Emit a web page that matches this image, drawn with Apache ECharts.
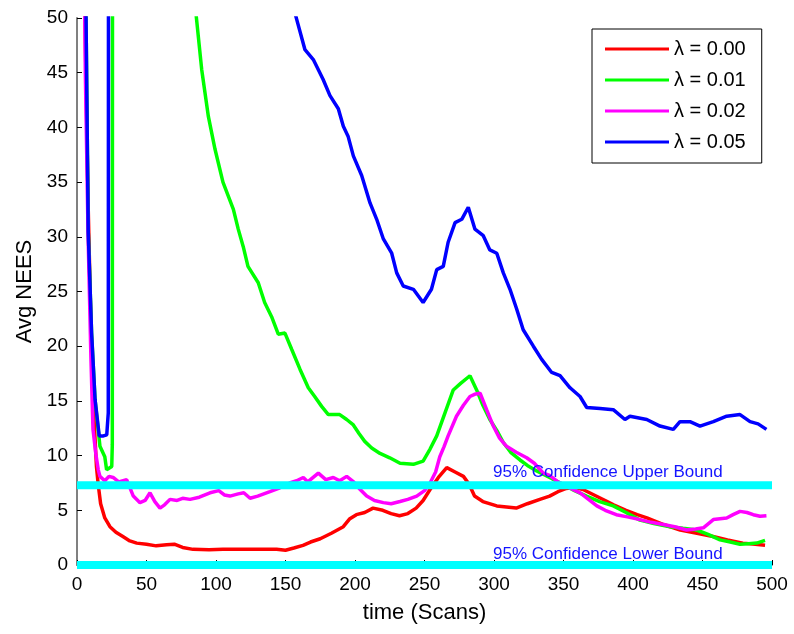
<!DOCTYPE html>
<html>
<head>
<meta charset="utf-8">
<script src="https://cdn.jsdelivr.net/npm/echarts@6/dist/echarts.min.js"></script>
<style>html,body{margin:0;padding:0;background:#fff}#c{width:794px;height:634px}</style>
</head>
<body>
<div id="c"></div>
<script>
var seriesNames = ['λ = 0.00', 'λ = 0.01', 'λ = 0.02', 'λ = 0.05'];
var xTicks = [0, 50, 100, 150, 200, 250, 300, 350, 400, 450, 500];
var yTicks = [0, 5, 10, 15, 20, 25, 30, 35, 40, 45, 50];
var upperBound = 7.3;
var lowerBound = 0;
var boundLabels = ['95% Confidence Upper Bound', '95% Confidence Lower Bound'];

var lambda000 = [[2,90],[6,48],[8,33],[10,22],[12,14],[14,9],[15.3,7.3],[17,5.6],[20,4.3],[23.7,3.5],[28,3.0],[33,2.6],[38,2.2],[43,2.0],[50,1.9],[57,1.75],[64.5,1.85],[70,1.9],[76,1.6],[83.5,1.43],[95,1.4],[105,1.45],[115,1.43],[130,1.45],[143.6,1.43],[150,1.35],[156,1.55],[162.6,1.8],[168,2.1],[175,2.4],[183,2.9],[191.6,3.5],[196,4.2],[201,4.6],[207,4.8],[213,5.2],[220,5.0],[226,4.7],[232,4.5],[238,4.7],[244,5.2],[249,5.9],[254,6.9],[260,8.0],[266,8.9],[272,8.5],[278,8.1],[282,7.4],[286,6.3],[292,5.8],[302,5.4],[309,5.3],[316,5.2],[324,5.6],[333,6.0],[340,6.3],[346,6.7],[352,7.0],[358,7.1],[364,6.9],[372,6.4],[380,5.9],[386,5.5],[395,5.0],[403,4.6],[410,4.3],[422,3.7],[434,3.2],[446,2.9],[457.6,2.6],[468,2.3],[479,2.0],[488,1.9],[495,1.8]];

var lambda001 = [[2,120],[6.5,50],[8.1,30.4],[10.5,21.2],[13,15.1],[16.5,10.85],[20,9.9],[21.3,8.7],[25,9.0],[25.4,11],[25.7,100],[50,140],[82,55],[86,49.9],[89.7,45.3],[94.5,41.0],[99.3,38.0],[105,35.0],[112.5,32.5],[116,30.7],[119.6,29.1],[123,27.3],[130.4,25.8],[135,24.0],[140,22.7],[144.8,21.1],[149.6,21.2],[154.5,19.7],[160.4,17.9],[166.4,16.2],[171,15.4],[176,14.5],[180.8,13.75],[189,13.75],[194,13.3],[198.8,12.8],[203,12.0],[207,11.3],[212,10.7],[218,10.2],[225,9.8],[232.4,9.3],[242,9.2],[249,9.5],[254,10.6],[258.8,11.8],[265,14.0],[270.7,16.0],[276,16.6],[282.7,17.3],[287.5,16.0],[292,14.6],[297,13.3],[302,12.3],[306.7,11.2],[312,10.3],[318.7,9.6],[324,9.1],[330.7,8.6],[340,8.0],[349.9,7.35],[358,6.8],[366.6,6.3],[376,5.8],[385.8,5.4],[395,4.8],[405,4.1],[415,3.8],[426.6,3.5],[436,3.35],[445.8,3.2],[454,2.8],[462.6,2.3],[470,2.1],[477,1.9],[483,1.95],[489,2.0],[495,2.25]];

var lambda002 = [[2,100],[6,45],[8,30],[10,19],[11.5,12.4],[13.5,10.2],[15.3,8.7],[16.5,8.1],[20,7.7],[23,8.1],[26,8.0],[30,7.6],[35.7,7.8],[40.5,6.3],[45.3,5.7],[49,5.9],[52.5,6.6],[56,5.8],[59.7,5.2],[63,5.5],[66.9,6.0],[72,5.9],[76,6.1],[81.3,6.0],[88,6.2],[95.7,6.6],[102,6.8],[106,6.4],[110,6.3],[116,6.5],[120,6.6],[124.5,6.1],[130,6.3],[138.8,6.7],[145,7.0],[153,7.5],[158,7.7],[162.8,8.0],[166,7.6],[173.6,8.4],[179,7.8],[184.4,8.0],[189,7.7],[194,8.1],[199,7.6],[203,7.0],[208.4,6.3],[214,5.9],[220.4,5.7],[226,5.6],[232.4,5.8],[238,6.0],[244.4,6.3],[250,6.8],[254,7.5],[258,8.5],[261,9.9],[264,10.8],[267,11.8],[273,13.6],[278,14.6],[282.7,15.4],[286,15.6],[290,15.7],[294.7,14.2],[299.5,12.7],[304,11.6],[309,10.85],[316,10.3],[323.5,9.8],[329,9.3],[335.5,8.4],[340,8.2],[346,7.6],[352,7.2],[362,6.6],[368,6.0],[374,5.4],[380,5.0],[388,4.6],[396,4.4],[405,4.15],[413,3.9],[421.8,3.7],[430,3.5],[438.6,3.2],[445,3.3],[450.6,3.4],[457.8,4.15],[467.4,4.3],[472,4.6],[477,4.9],[482,4.8],[486.5,4.6],[491.4,4.45],[496,4.5]];

var lambda005 = [[2,120],[6.5,50],[8.1,30.4],[10.5,21.2],[13,15.1],[16,11.8],[19,11.8],[21.4,11.9],[22.5,13.9],[22.8,100],[60,150],[120,90],[152,52.7],[158,49.9],[164,47.1],[170,46.2],[177,44.4],[182,42.9],[188,41.7],[191.6,40.1],[195,39.2],[198.8,37.4],[204.8,35.6],[210.8,33.1],[215.6,31.6],[220.4,29.8],[226.4,28.5],[230,26.7],[234.7,25.5],[242,25.2],[249,24.0],[255,25.2],[258.8,27.0],[263.5,27.3],[267,29.5],[272,31.3],[276.8,31.6],[281.5,32.7],[286.3,30.7],[292.3,30.1],[297,28.8],[302,28.5],[306.7,26.7],[311.5,25.2],[316.3,23.4],[321,21.5],[328.3,20.0],[334.3,18.8],[341.5,17.6],[347.5,17.3],[354.7,16.2],[361.9,15.4],[366.7,14.4],[376.3,14.3],[385.8,14.2],[394.2,13.3],[397.8,13.6],[409.9,13.3],[419.4,12.7],[429,12.4],[433.8,13.1],[441,13.1],[448.2,12.7],[457.8,13.1],[467.4,13.6],[477,13.75],[484.2,13.1],[490,12.9],[496,12.4]];

var seriesData = [lambda000, lambda001, lambda002, lambda005];
var colors = ['#ff0000', '#00ff00', '#ff00ff', '#0000ff'];

var chart = echarts.init(document.getElementById('c'), null, {renderer: 'canvas'});
var FONT = 'Liberation Sans, Arial, sans-serif';

var series = seriesData.map(function (d, i) {
  return {
    name: seriesNames[i], type: 'line', data: d, showSymbol: false, symbol: 'none',
    lineStyle: {color: colors[i], width: 3.5}, itemStyle: {color: colors[i]},
    clip: true, z: 2, animation: false
  };
});
[upperBound, lowerBound].forEach(function (b) {
  series.push({
    name: 'bound' + b, type: 'line', data: [[0, b], [500, b]], showSymbol: false, symbol: 'none',
    lineStyle: {color: '#00ffff', width: 8}, clip: false, z: 3, animation: false, silent: true
  });
});

chart.setOption({
  backgroundColor: '#fff',
  animation: false,
  grid: {left: 77, right: 22, top: 18, bottom: 69},
  legend: {
    data: seriesNames.map(function (n) { return {name: n, icon: 'rect'}; }),
    orient: 'vertical', left: 592, top: 29,
    itemWidth: 64, itemHeight: 3, itemGap: 11,
    padding: [10, 16, 11, 13],
    borderColor: '#000', borderWidth: 1, backgroundColor: '#fff',
    textStyle: {fontFamily: FONT, fontSize: 20, color: '#000'}
  },
  xAxis: {
    type: 'value', min: 0, max: 500, interval: 50,
    name: 'time (Scans)', nameLocation: 'middle', nameGap: 37,
    nameTextStyle: {fontFamily: FONT, fontSize: 22, color: '#000'},
    axisLine: {show: true, onZero: false, lineStyle: {color: '#808080', width: 2}},
    axisTick: {show: true, inside: true, length: 5, lineStyle: {color: '#000'}},
    axisLabel: {fontFamily: FONT, fontSize: 19, color: '#000', margin: 10,
      formatter: function (v) { return xTicks.indexOf(v) >= 0 ? String(v) : ''; }},
    splitLine: {show: false}
  },
  yAxis: {
    type: 'value', min: 0, max: 50, interval: 5,
    name: 'Avg NEES', nameLocation: 'middle', nameGap: 38,
    nameTextStyle: {fontFamily: FONT, fontSize: 22, color: '#000'},
    axisLine: {show: true, lineStyle: {color: '#808080', width: 2}},
    axisTick: {show: true, inside: true, length: 5, lineStyle: {color: '#000'}},
    axisLabel: {fontFamily: FONT, fontSize: 19, color: '#000', margin: 9,
      formatter: function (v) { return yTicks.indexOf(v) >= 0 ? String(v) : ''; }},
    splitLine: {show: false}
  },
  graphic: [
    {type: 'text', left: 493, top: 464, z: 10,
     style: {text: boundLabels[0], fontFamily: FONT, fontSize: 17, fill: '#1414ff'}},
    {type: 'text', left: 493, top: 546, z: 10,
     style: {text: boundLabels[1], fontFamily: FONT, fontSize: 17, fill: '#1414ff'}}
  ],
  series: series
});
</script>
</body>
</html>
